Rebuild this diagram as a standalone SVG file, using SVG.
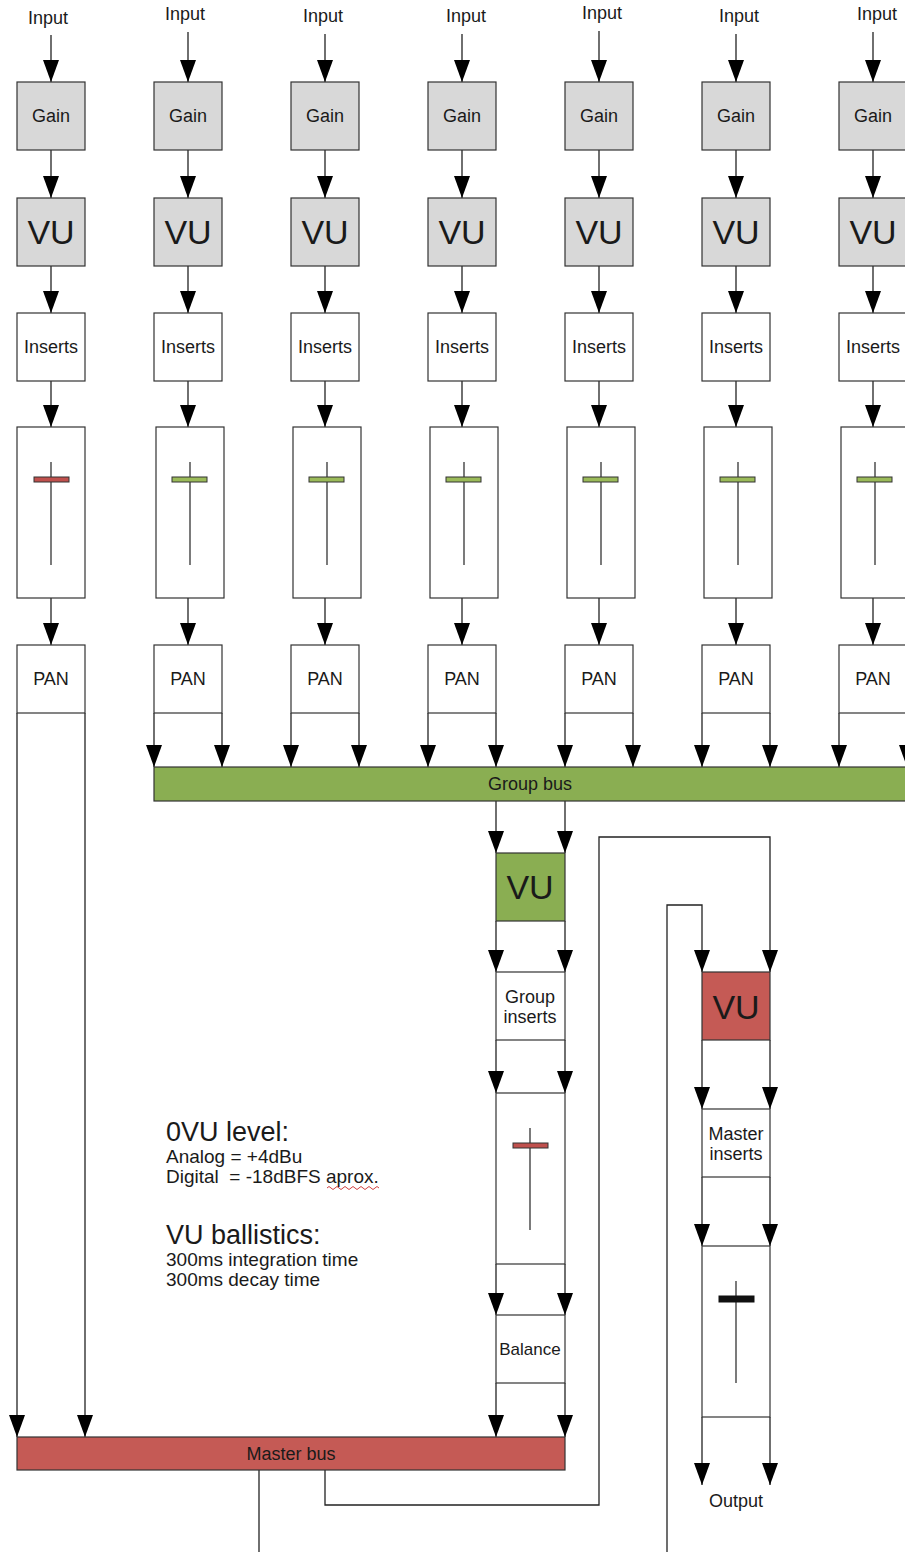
<svg xmlns="http://www.w3.org/2000/svg" width="905" height="1552" viewBox="0 0 905 1552">
<style>
  .t{font-family:"Liberation Sans",Arial,sans-serif;fill:#1a1a1a;text-anchor:middle}
  .lbl{font-size:18px}
  .vu{font-size:34px}
  .body{font-family:"Liberation Sans",Arial,sans-serif;fill:#1a1a1a;font-size:19px}
  .head{font-family:"Liberation Sans",Arial,sans-serif;fill:#1a1a1a;font-size:27px}
  .gray{fill:#d8d8d8;stroke:#333;stroke-width:1.2}
  .white{fill:#fff;stroke:#333;stroke-width:1.2}
  .green{fill:#8aae52;stroke:#333;stroke-width:1.2}
  .red{fill:#c55a55;stroke:#333;stroke-width:1.2}
  .rail{stroke:#222;stroke-width:1.2;fill:none}
  .kg{fill:#9bbb59;stroke:#333;stroke-width:1}
  .kr{fill:#c0504d;stroke:#333;stroke-width:1}
  .kb{fill:#111;stroke:#111;stroke-width:1}
  .c{stroke:#222;stroke-width:1.3;fill:none;marker-end:url(#ah)}
  .cn{stroke:#222;stroke-width:1.3;fill:none}
</style>
<defs>
  <marker id="ah" viewBox="0 0 22 16" markerWidth="22" markerHeight="16" refX="22" refY="8" orient="auto" markerUnits="userSpaceOnUse">
    <path d="M0,0 L22,8 L0,16 z" fill="#000"/>
  </marker>
</defs>
<rect width="905" height="1552" fill="#fff"/>

<!-- connectors -->
<g id="connectors">
  <!-- input arrows -->
  <path class="c" d="M51,35 V82"/>
  <path class="c" d="M188,32 V82"/>
  <path class="c" d="M325,34 V82"/>
  <path class="c" d="M462,34 V82"/>
  <path class="c" d="M599,31 V82"/>
  <path class="c" d="M736,34 V82"/>
  <path class="c" d="M873,32 V82"/>
  <!-- gain -> vu -->
  <path class="c" d="M51,150 V198"/>
  <path class="c" d="M188,150 V198"/>
  <path class="c" d="M325,150 V198"/>
  <path class="c" d="M462,150 V198"/>
  <path class="c" d="M599,150 V198"/>
  <path class="c" d="M736,150 V198"/>
  <path class="c" d="M873,150 V198"/>
  <!-- vu -> inserts -->
  <path class="c" d="M51,266 V313"/>
  <path class="c" d="M188,266 V313"/>
  <path class="c" d="M325,266 V313"/>
  <path class="c" d="M462,266 V313"/>
  <path class="c" d="M599,266 V313"/>
  <path class="c" d="M736,266 V313"/>
  <path class="c" d="M873,266 V313"/>
  <!-- inserts -> fader -->
  <path class="c" d="M51,381 V427"/>
  <path class="c" d="M188,381 V427"/>
  <path class="c" d="M325,381 V427"/>
  <path class="c" d="M462,381 V427"/>
  <path class="c" d="M599,381 V427"/>
  <path class="c" d="M736,381 V427"/>
  <path class="c" d="M873,381 V427"/>
  <!-- fader -> pan -->
  <path class="c" d="M51,598 V645"/>
  <path class="c" d="M188,598 V645"/>
  <path class="c" d="M325,598 V645"/>
  <path class="c" d="M462,598 V645"/>
  <path class="c" d="M599,598 V645"/>
  <path class="c" d="M736,598 V645"/>
  <path class="c" d="M873,598 V645"/>
  <!-- pan -> group bus -->
  <path class="c" d="M154,713 V767"/><path class="c" d="M222,713 V767"/>
  <path class="c" d="M291,713 V767"/><path class="c" d="M359,713 V767"/>
  <path class="c" d="M428,713 V767"/><path class="c" d="M496,713 V767"/>
  <path class="c" d="M565,713 V767"/><path class="c" d="M633,713 V767"/>
  <path class="c" d="M702,713 V767"/><path class="c" d="M770,713 V767"/>
  <path class="c" d="M839,713 V767"/><path class="c" d="M907,713 V767"/>
  <!-- channel 1 pan -> master bus -->
  <path class="c" d="M17,713 V1437"/>
  <path class="c" d="M85,713 V1437"/>
  <!-- group chain -->
  <path class="c" d="M496,801 V853"/><path class="c" d="M565,801 V853"/>
  <path class="c" d="M496,921 V972"/><path class="c" d="M565,921 V972"/>
  <path class="c" d="M496,1040 V1093"/><path class="c" d="M565,1040 V1093"/>
  <path class="c" d="M496,1264 V1315"/><path class="c" d="M565,1264 V1315"/>
  <path class="c" d="M496,1383 V1437"/><path class="c" d="M565,1383 V1437"/>
  <!-- master bus outputs -->
  <path class="c" d="M325,1470 V1505 H599 V837 H770 V972"/>
  <path class="cn" d="M259,1470 V1552"/>
  <path class="c" d="M667,1552 V905 H702 V972"/>
  <!-- master chain -->
  <path class="c" d="M702,1040 V1109"/><path class="c" d="M770,1040 V1109"/>
  <path class="c" d="M702,1177 V1246"/><path class="c" d="M770,1177 V1246"/>
  <path class="c" d="M702,1417 V1485"/><path class="c" d="M770,1417 V1485"/>
</g>

<!-- input labels -->
<g id="inputs">
  <text class="t lbl" x="48" y="24">Input</text>
  <text class="t lbl" x="185" y="20">Input</text>
  <text class="t lbl" x="323" y="22">Input</text>
  <text class="t lbl" x="466" y="22">Input</text>
  <text class="t lbl" x="602" y="19">Input</text>
  <text class="t lbl" x="739" y="22">Input</text>
  <text class="t lbl" x="877" y="20">Input</text>
</g>

<!-- channel 1 -->
<g id="ch1">
  <rect class="gray" x="17" y="82" width="68" height="68"/><text class="t lbl" x="51" y="122">Gain</text>
  <rect class="gray" x="17" y="198" width="68" height="68"/><text class="t vu" x="51" y="244">VU</text>
  <rect class="white" x="17" y="313" width="68" height="68"/><text class="t lbl" x="51" y="353">Inserts</text>
  <rect class="white" x="17" y="427" width="68" height="171"/>
  <line class="rail" x1="51" y1="462" x2="51" y2="565"/>
  <rect class="kr" x="34" y="477" width="35" height="5"/>
  <rect class="white" x="17" y="645" width="68" height="68"/><text class="t lbl" x="51" y="685">PAN</text>
</g>
<g id="ch2">
  <rect class="gray" x="154" y="82" width="68" height="68"/><text class="t lbl" x="188" y="122">Gain</text>
  <rect class="gray" x="154" y="198" width="68" height="68"/><text class="t vu" x="188" y="244">VU</text>
  <rect class="white" x="154" y="313" width="68" height="68"/><text class="t lbl" x="188" y="353">Inserts</text>
  <rect class="white" x="156" y="427" width="68" height="171"/>
  <line class="rail" x1="190" y1="462" x2="190" y2="565"/>
  <rect class="kg" x="172" y="477" width="35" height="5"/>
  <rect class="white" x="154" y="645" width="68" height="68"/><text class="t lbl" x="188" y="685">PAN</text>
</g>
<g id="ch3">
  <rect class="gray" x="291" y="82" width="68" height="68"/><text class="t lbl" x="325" y="122">Gain</text>
  <rect class="gray" x="291" y="198" width="68" height="68"/><text class="t vu" x="325" y="244">VU</text>
  <rect class="white" x="291" y="313" width="68" height="68"/><text class="t lbl" x="325" y="353">Inserts</text>
  <rect class="white" x="293" y="427" width="68" height="171"/>
  <line class="rail" x1="327" y1="462" x2="327" y2="565"/>
  <rect class="kg" x="309" y="477" width="35" height="5"/>
  <rect class="white" x="291" y="645" width="68" height="68"/><text class="t lbl" x="325" y="685">PAN</text>
</g>
<g id="ch4">
  <rect class="gray" x="428" y="82" width="68" height="68"/><text class="t lbl" x="462" y="122">Gain</text>
  <rect class="gray" x="428" y="198" width="68" height="68"/><text class="t vu" x="462" y="244">VU</text>
  <rect class="white" x="428" y="313" width="68" height="68"/><text class="t lbl" x="462" y="353">Inserts</text>
  <rect class="white" x="430" y="427" width="68" height="171"/>
  <line class="rail" x1="464" y1="462" x2="464" y2="565"/>
  <rect class="kg" x="446" y="477" width="35" height="5"/>
  <rect class="white" x="428" y="645" width="68" height="68"/><text class="t lbl" x="462" y="685">PAN</text>
</g>
<g id="ch5">
  <rect class="gray" x="565" y="82" width="68" height="68"/><text class="t lbl" x="599" y="122">Gain</text>
  <rect class="gray" x="565" y="198" width="68" height="68"/><text class="t vu" x="599" y="244">VU</text>
  <rect class="white" x="565" y="313" width="68" height="68"/><text class="t lbl" x="599" y="353">Inserts</text>
  <rect class="white" x="567" y="427" width="68" height="171"/>
  <line class="rail" x1="601" y1="462" x2="601" y2="565"/>
  <rect class="kg" x="583" y="477" width="35" height="5"/>
  <rect class="white" x="565" y="645" width="68" height="68"/><text class="t lbl" x="599" y="685">PAN</text>
</g>
<g id="ch6">
  <rect class="gray" x="702" y="82" width="68" height="68"/><text class="t lbl" x="736" y="122">Gain</text>
  <rect class="gray" x="702" y="198" width="68" height="68"/><text class="t vu" x="736" y="244">VU</text>
  <rect class="white" x="702" y="313" width="68" height="68"/><text class="t lbl" x="736" y="353">Inserts</text>
  <rect class="white" x="704" y="427" width="68" height="171"/>
  <line class="rail" x1="738" y1="462" x2="738" y2="565"/>
  <rect class="kg" x="720" y="477" width="35" height="5"/>
  <rect class="white" x="702" y="645" width="68" height="68"/><text class="t lbl" x="736" y="685">PAN</text>
</g>
<g id="ch7">
  <rect class="gray" x="839" y="82" width="68" height="68"/><text class="t lbl" x="873" y="122">Gain</text>
  <rect class="gray" x="839" y="198" width="68" height="68"/><text class="t vu" x="873" y="244">VU</text>
  <rect class="white" x="839" y="313" width="68" height="68"/><text class="t lbl" x="873" y="353">Inserts</text>
  <rect class="white" x="841" y="427" width="68" height="171"/>
  <line class="rail" x1="875" y1="462" x2="875" y2="565"/>
  <rect class="kg" x="857" y="477" width="35" height="5"/>
  <rect class="white" x="839" y="645" width="68" height="68"/><text class="t lbl" x="873" y="685">PAN</text>
</g>

<!-- group bus -->
<g id="group-bus">
  <rect class="green" x="154" y="767" width="760" height="34"/>
  <text class="t lbl" x="530" y="790">Group bus</text>
</g>
<g id="group-vu">
  <rect class="green" x="496" y="853" width="69" height="68"/>
  <text class="t vu" x="530" y="899">VU</text>
</g>
<g id="group-inserts">
  <rect class="white" x="496" y="972" width="69" height="68"/>
  <text class="t lbl" x="530" y="1003">Group</text>
  <text class="t lbl" x="530" y="1023">inserts</text>
</g>
<g id="group-fader">
  <rect class="white" x="496" y="1093" width="69" height="171"/>
  <line class="rail" x1="530" y1="1128" x2="530" y2="1230"/>
  <rect class="kr" x="513" y="1143" width="35" height="5"/>
</g>
<g id="balance">
  <rect class="white" x="496" y="1315" width="69" height="68"/>
  <text class="t" style="font-size:17px" x="530" y="1355">Balance</text>
</g>

<!-- master bus -->
<g id="master-bus">
  <rect class="red" x="17" y="1437" width="548" height="33"/>
  <text class="t lbl" x="291" y="1460">Master bus</text>
</g>
<g id="master-vu">
  <rect class="red" x="702" y="972" width="68" height="68"/>
  <text class="t vu" x="736" y="1019">VU</text>
</g>
<g id="master-inserts">
  <rect class="white" x="702" y="1109" width="68" height="68"/>
  <text class="t lbl" x="736" y="1140">Master</text>
  <text class="t lbl" x="736" y="1160">inserts</text>
</g>
<g id="master-fader">
  <rect class="white" x="702" y="1246" width="68" height="171"/>
  <line class="rail" x1="736" y1="1281" x2="736" y2="1383"/>
  <rect class="kb" x="719" y="1296" width="35" height="6"/>
</g>
<g id="output">
  <text class="t lbl" x="736" y="1507">Output</text>
</g>

<!-- notes -->
<g id="notes">
  <text class="head" x="166" y="1141">0VU level:</text>
  <text class="body" x="166" y="1163">Analog = +4dBu</text>
  <text class="body" x="166" y="1183" xml:space="preserve">Digital  = -18dBFS aprox.</text>
  <path d="M327,1188 q2,-3 4,0 t4,0 t4,0 t4,0 t4,0 t4,0 t4,0 t4,0 t4,0 t4,0 t4,0 t4,0 t4,0" fill="none" stroke="#d04040" stroke-width="1"/>
  <text class="head" x="166" y="1244">VU ballistics:</text>
  <text class="body" x="166" y="1266">300ms integration time</text>
  <text class="body" x="166" y="1286">300ms decay time</text>
</g>
</svg>
